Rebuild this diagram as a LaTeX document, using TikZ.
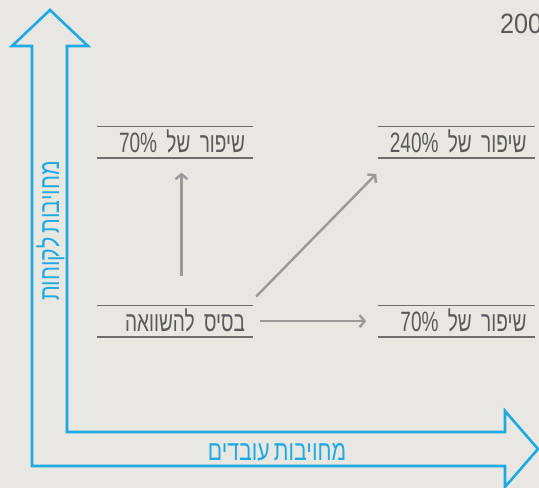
\documentclass[tikz,border=0pt]{standalone}
\usepackage{fontspec}
\usetikzlibrary{positioning, arrows.meta}
\TeXXeTstate=1
\newfontfamily\hebfont[Script=Hebrew, FakeStretch=0.68, WordSpace=0.6]{Liberation Sans}
\newfontfamily\axisfont[Script=Hebrew, FakeStretch=0.76, WordSpace=0.7]{Liberation Sans}
\newfontfamily\yearfont[FakeStretch=0.9]{Liberation Sans}
\definecolor{paper}{HTML}{E8E7E2}
\definecolor{axisblue}{HTML}{1DA9E4}
\definecolor{labelgray}{HTML}{5A5A5A}
\definecolor{rulegray}{HTML}{6E6E6E}
\definecolor{arrowgray}{HTML}{9A9A9A}
\tikzset{
  result/.style={text=labelgray, text width=140pt, align=right, inner xsep=8pt, inner ysep=5.5pt, text height=20pt, text depth=0pt},
  axislabel/.style={text=axisblue, font=\axisfont\fontsize{28}{28}\selectfont, inner sep=0pt, text height=20pt, text depth=0pt},
  conn/.style={draw=arrowgray, line width=2.4pt, -{Straight Barb[length=5pt,width=12pt]}},
  rule/.style={draw=rulegray, line width=1.6pt},
  axis/.style={draw=axisblue, line width=2.6pt, line join=miter}
}
\begin{document}
\begin{tikzpicture}[x=1pt, y=-1pt, font=\hebfont\fontsize{28}{28}\selectfont]
  \useasboundingbox (0,0) rectangle (539,488);
  \fill[paper] (0,0) rectangle (539,488);
  \draw[axis] (50,10) -- (88,46) -- (67,46) -- (67,432) -- (505,432) -- (505,411) -- (538,449) -- (505,487) -- (505,466) -- (32,466) -- (32,46) -- (12,46) -- cycle;
  \node[axislabel] (xlab) at (277,450) {\beginR מחויבות עובדים\endR};
  \node[axislabel, rotate=90] (ylab) at (49,231) {\beginR מחויבות לקוחות\endR};
  \node[text=labelgray, font=\yearfont\fontsize{28}{28}\selectfont, anchor=base west, inner sep=0pt] (year) at (500,33) {200};
  \node[result] (base) at (175,321.2) {\beginR בסיס להשוואה\endR};
  \node[result, above=147.5pt of base] (up) {\beginR שיפור של \beginL 70\%\endL\endR};
  \node[result, right=125pt of base] (side) {\beginR שיפור של \beginL 70\%\endL\endR};
  \node[result, above=147.5pt of side] (both) {\beginR שיפור של \beginL 240\%\endL\endR};
  \foreach \n in {base,up,side,both}
    \draw[rule] (\n.north west) -- (\n.north east) (\n.south west) -- (\n.south east);
  \draw[conn, shorten <=29.7pt, shorten >=14.7pt] ([xshift=6.5pt]base.north) -- ([xshift=6.5pt]up.south);
  \draw[conn] ([shift={(3pt,9pt)}]base.north east) -- ([shift={(-2pt,-16pt)}]both.south west);
  \draw[conn, shorten <=7pt, shorten >=12pt] (base) -- (side);
\end{tikzpicture}
\end{document}
